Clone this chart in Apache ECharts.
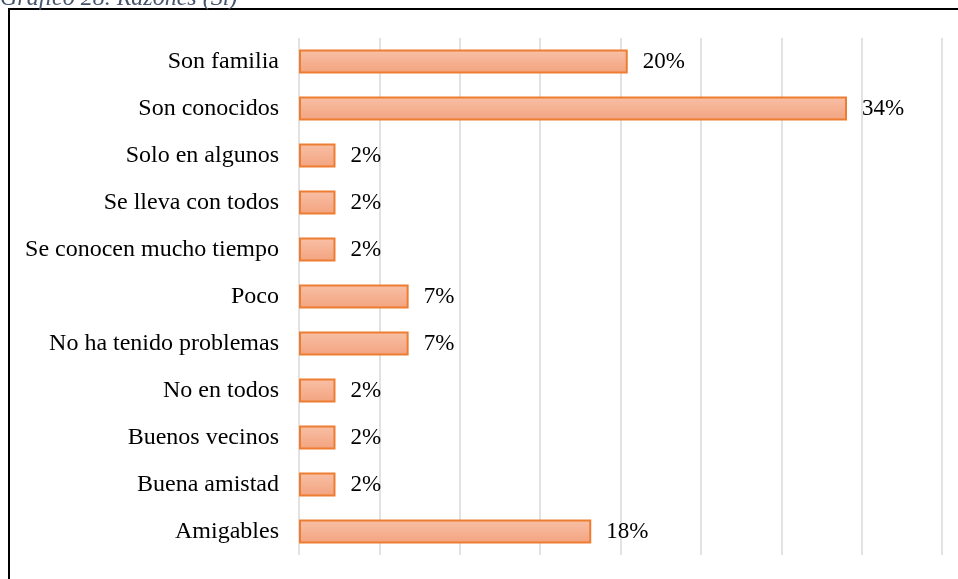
<!DOCTYPE html>
<html lang="es">
<head>
<meta charset="UTF-8" />
<title>Gráfico 28. Razones (Sí)</title>
<style>
  html, body { margin: 0; padding: 0; background: #fff; }
  #chart { width: 958px; height: 579px; }
</style>
<script src="https://cdn.jsdelivr.net/npm/echarts@6/dist/echarts.min.js"></script>
</head>
<body>
<div id="chart"></div>
<script>
// categorias de abajo hacia arriba (eje de categorias invertido en ECharts)
var categorias = ['Amigables', 'Buena amistad', 'Buenos vecinos', 'No en todos',
  'No ha tenido problemas', 'Poco', 'Se conocen mucho tiempo',
  'Se lleva con todos', 'Solo en algunos', 'Son conocidos', 'Son familia'];
// porcentajes
var valores = [18.18, 2.27, 2.27, 2.27, 6.82, 6.82, 2.27, 2.27, 2.27, 34.09, 20.45];
var titulo = 'Gráfico 28. Razones (Sí)';

var chart = echarts.init(document.getElementById('chart'));

var option = {
  backgroundColor: '#fff',
  animation: false,
  textStyle: { fontFamily: 'Liberation Serif' },
  graphic: [
    {
      type: 'text', left: 0, top: -13,
      style: { text: titulo, fill: '#44546A', font: 'italic 24px "Liberation Serif"' }
    },
    {
      // marco del grafico
      type: 'rect', shape: { x: 9, y: 9, width: 960, height: 600 },
      style: { fill: 'none', stroke: '#000', lineWidth: 2 }, z: -1
    }
  ],
  grid: { left: 299, right: 16, top: 38, bottom: 24 },
  xAxis: {
    type: 'value', min: 0, max: 40, interval: 5,
    axisLabel: { show: false },
    axisLine: { show: false },
    axisTick: { show: false },
    splitLine: { lineStyle: { color: '#D9D9D9', width: 1.5 } }
  },
  yAxis: {
    type: 'category', data: categorias,
    axisLine: { show: false },
    axisTick: { show: false },
    axisLabel: { color: '#000', fontSize: 24, margin: 20, fontFamily: 'Liberation Serif' }
  },
  series: [{
    type: 'bar',
    data: valores,
    barWidth: 24,
    itemStyle: {
      color: new echarts.graphic.LinearGradient(0, 0, 0, 1, [
        { offset: 0, color: '#F8C0A6' },
        { offset: 1, color: '#F3A37F' }
      ]),
      borderColor: '#ED7D31',
      borderWidth: 2
    },
    label: {
      show: true, position: 'right', distance: 15,
      color: '#000', fontSize: 23, fontFamily: 'Liberation Serif',
      formatter: function (p) { return Math.round(p.value) + '%'; }
    }
  }]
};
chart.setOption(option);
</script>
</body>
</html>
